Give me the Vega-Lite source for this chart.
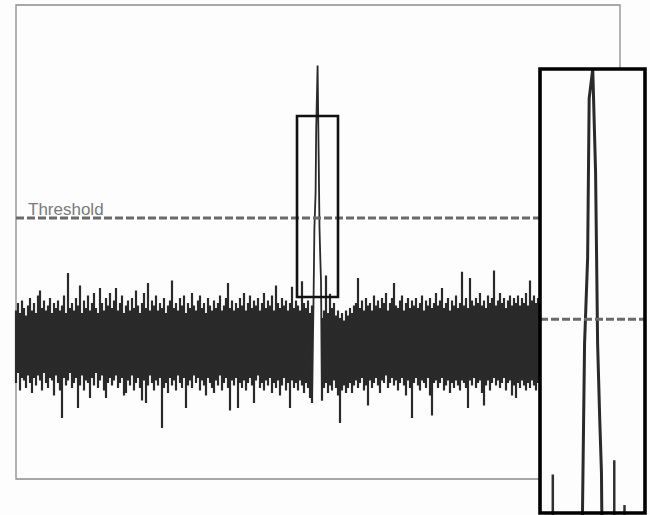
{
  "$schema": "https://vega.github.io/schema/vega-lite/v6.json",
  "width": 650,
  "height": 515,
  "autosize": {"type": "fit", "contains": "padding"},
  "padding": 0,
  "background": "#fdfdfd",
  "config": {"view": {"stroke": null}},
  "datasets": {
    "frame": [{"t0": 0, "t1": 302, "v0": -5.44, "v1": 13.52}],
    "threshold": [{"t0": 0, "t1": 262, "v": 5, "label": "Threshold"}],
    "box": [{"t0": 140.5, "t1": 161, "v0": 1.84, "v1": 9.08, "thr": 5}],
    "peak": [
      {"t":148,"v":-2.4},{"t":148.8,"v":1.9},{"t":149.2,"v":4.6},{"t":149.8,"v":6.0},{"t":150.1,"v":8.6},{"t":150.8,"v":11.1},{"t":151.35,"v":7.4},{"t":151.75,"v":4.6},{"t":152.15,"v":3.4},{"t":152.5,"v":2.5},{"t":153,"v":-2.3}
    ],
    "noise": [
      {"t":0,"hi":1.3,"lo":-1.6},{"t":1,"hi":1.6,"lo":-1.2},{"t":2,"hi":1.2,"lo":-1.9},{"t":3,"hi":1.7,"lo":-1.4},{"t":4,"hi":1.4,"lo":-1.5},{"t":5,"hi":1.1,"lo":-1.8},{"t":6,"hi":1.5,"lo":-1.3},{"t":7,"hi":1.8,"lo":-1.6},{"t":8,"hi":1.3,"lo":-2.0},{"t":9,"hi":1.6,"lo":-1.4},
      {"t":10,"hi":1.2,"lo":-1.7},{"t":11,"hi":1.9,"lo":-1.3},{"t":12,"hi":2.1,"lo":-1.5},{"t":13,"hi":1.4,"lo":-1.9},{"t":14,"hi":1.7,"lo":-1.2},{"t":15,"hi":1.3,"lo":-1.6},{"t":16,"hi":1.5,"lo":-1.8},{"t":17,"hi":1.8,"lo":-1.4},{"t":18,"hi":1.2,"lo":-1.5},{"t":19,"hi":1.6,"lo":-2.1},
      {"t":20,"hi":1.4,"lo":-1.3},{"t":21,"hi":1.7,"lo":-1.6},{"t":22,"hi":1.3,"lo":-1.9},{"t":23,"hi":1.5,"lo":-3.0},{"t":24,"hi":1.9,"lo":-1.4},{"t":25,"hi":1.2,"lo":-1.7},{"t":26,"hi":2.8,"lo":-1.5},{"t":27,"hi":1.4,"lo":-1.2},{"t":28,"hi":1.6,"lo":-1.8},{"t":29,"hi":1.3,"lo":-1.6},
      {"t":30,"hi":1.8,"lo":-1.4},{"t":31,"hi":1.5,"lo":-2.6},{"t":32,"hi":2.3,"lo":-1.7},{"t":33,"hi":1.2,"lo":-1.3},{"t":34,"hi":1.7,"lo":-1.9},{"t":35,"hi":1.4,"lo":-1.5},{"t":36,"hi":1.9,"lo":-1.6},{"t":37,"hi":1.3,"lo":-2.2},{"t":38,"hi":1.6,"lo":-1.4},{"t":39,"hi":2.0,"lo":-1.7},
      {"t":40,"hi":1.4,"lo":-1.2},{"t":41,"hi":1.2,"lo":-1.8},{"t":42,"hi":2.2,"lo":-1.5},{"t":43,"hi":1.6,"lo":-1.3},{"t":44,"hi":1.3,"lo":-1.9},{"t":45,"hi":1.8,"lo":-2.2},{"t":46,"hi":1.5,"lo":-1.6},{"t":47,"hi":2.0,"lo":-1.4},{"t":48,"hi":1.4,"lo":-1.7},{"t":49,"hi":1.7,"lo":-1.5},
      {"t":50,"hi":2.2,"lo":-1.3},{"t":51,"hi":1.3,"lo":-1.8},{"t":52,"hi":1.6,"lo":-1.6},{"t":53,"hi":1.9,"lo":-1.4},{"t":54,"hi":1.2,"lo":-2.1},{"t":55,"hi":1.5,"lo":-2.0},{"t":56,"hi":1.7,"lo":-1.5},{"t":57,"hi":1.3,"lo":-1.7},{"t":58,"hi":1.8,"lo":-1.3},{"t":59,"hi":1.4,"lo":-1.9},
      {"t":60,"hi":2.1,"lo":-1.6},{"t":61,"hi":1.5,"lo":-1.4},{"t":62,"hi":1.2,"lo":-1.8},{"t":63,"hi":1.6,"lo":-2.3},{"t":64,"hi":2.0,"lo":-1.5},{"t":65,"hi":1.4,"lo":-2.4},{"t":66,"hi":2.4,"lo":-1.7},{"t":67,"hi":1.3,"lo":-1.3},{"t":68,"hi":1.7,"lo":-1.6},{"t":69,"hi":1.5,"lo":-1.9},
      {"t":70,"hi":1.9,"lo":-1.5},{"t":71,"hi":1.3,"lo":-1.7},{"t":72,"hi":1.6,"lo":-1.4},{"t":73,"hi":1.4,"lo":-3.4},{"t":74,"hi":1.8,"lo":-1.8},{"t":75,"hi":1.2,"lo":-1.6},{"t":76,"hi":1.5,"lo":-2.0},{"t":77,"hi":1.7,"lo":-1.4},{"t":78,"hi":2.5,"lo":-1.7},{"t":79,"hi":1.4,"lo":-1.5},
      {"t":80,"hi":1.6,"lo":-1.9},{"t":81,"hi":1.3,"lo":-1.3},{"t":82,"hi":1.8,"lo":-1.6},{"t":83,"hi":1.5,"lo":-1.8},{"t":84,"hi":1.9,"lo":-1.4},{"t":85,"hi":1.2,"lo":-2.6},{"t":86,"hi":1.6,"lo":-1.7},{"t":87,"hi":1.4,"lo":-1.5},{"t":88,"hi":2.0,"lo":-1.8},{"t":89,"hi":1.5,"lo":-1.3},
      {"t":90,"hi":1.3,"lo":-1.6},{"t":91,"hi":1.7,"lo":-1.4},{"t":92,"hi":1.9,"lo":-1.9},{"t":93,"hi":1.4,"lo":-1.5},{"t":94,"hi":1.6,"lo":-1.7},{"t":95,"hi":1.2,"lo":-2.1},{"t":96,"hi":1.8,"lo":-1.4},{"t":97,"hi":1.5,"lo":-1.6},{"t":98,"hi":1.3,"lo":-1.8},{"t":99,"hi":1.7,"lo":-2.0},
      {"t":100,"hi":1.4,"lo":-1.5},{"t":101,"hi":1.6,"lo":-1.7},{"t":102,"hi":1.9,"lo":-1.3},{"t":103,"hi":1.3,"lo":-1.9},{"t":104,"hi":1.5,"lo":-1.6},{"t":105,"hi":1.8,"lo":-1.4},{"t":106,"hi":2.4,"lo":-1.8},{"t":107,"hi":1.4,"lo":-2.7},{"t":108,"hi":1.7,"lo":-1.5},{"t":109,"hi":1.3,"lo":-1.7},
      {"t":110,"hi":1.6,"lo":-1.4},{"t":111,"hi":1.4,"lo":-2.6},{"t":112,"hi":1.8,"lo":-1.6},{"t":113,"hi":1.5,"lo":-1.8},{"t":114,"hi":2.0,"lo":-1.5},{"t":115,"hi":1.3,"lo":-1.9},{"t":116,"hi":1.6,"lo":-1.6},{"t":117,"hi":1.9,"lo":-1.4},{"t":118,"hi":1.4,"lo":-1.7},{"t":119,"hi":1.7,"lo":-2.4},
      {"t":120,"hi":1.5,"lo":-1.5},{"t":121,"hi":1.8,"lo":-1.3},{"t":122,"hi":1.3,"lo":-1.8},{"t":123,"hi":1.6,"lo":-1.6},{"t":124,"hi":2.0,"lo":-1.9},{"t":125,"hi":1.4,"lo":-1.5},{"t":126,"hi":1.7,"lo":-1.7},{"t":127,"hi":1.5,"lo":-1.4},{"t":128,"hi":1.9,"lo":-2.0},{"t":129,"hi":1.3,"lo":-1.6},
      {"t":130,"hi":2.3,"lo":-1.8},{"t":131,"hi":1.6,"lo":-1.5},{"t":132,"hi":1.4,"lo":-2.1},{"t":133,"hi":1.8,"lo":-1.7},{"t":134,"hi":1.5,"lo":-1.4},{"t":135,"hi":1.7,"lo":-1.9},{"t":136,"hi":1.3,"lo":-1.6},{"t":137,"hi":1.6,"lo":-2.6},{"t":138,"hi":2.25,"lo":-1.5},{"t":139,"hi":1.4,"lo":-1.8},
      {"t":140,"hi":1.7,"lo":-1.6},{"t":141,"hi":1.5,"lo":-1.9},{"t":142,"hi":1.3,"lo":-1.5},{"t":143,"hi":2.47,"lo":-1.7},{"t":144,"hi":1.6,"lo":-2.0},{"t":145,"hi":1.4,"lo":-1.6},{"t":146,"hi":1.7,"lo":-1.8},{"t":147,"hi":1.2,"lo":-2.2},{"t":148,"hi":1.5,"lo":-2.4},
      {"t":153,"hi":1.0,"lo":-2.3},{"t":154,"hi":1.3,"lo":-1.8},{"t":155,"hi":2.7,"lo":-1.6},{"t":156,"hi":1.2,"lo":-2.0},{"t":157,"hi":1.97,"lo":-1.7},{"t":158,"hi":1.4,"lo":-1.9},{"t":159,"hi":1.6,"lo":-1.5},
      {"t":160,"hi":1.1,"lo":-1.8},{"t":161,"hi":1.3,"lo":-2.1},{"t":162,"hi":1.0,"lo":-3.2},{"t":163,"hi":1.2,"lo":-1.9},{"t":164,"hi":0.9,"lo":-1.7},{"t":165,"hi":1.3,"lo":-2.0},{"t":166,"hi":1.1,"lo":-1.8},{"t":167,"hi":1.4,"lo":-1.6},{"t":168,"hi":1.2,"lo":-2.0},{"t":169,"hi":1.5,"lo":-1.7},
      {"t":170,"hi":1.6,"lo":-1.5},{"t":171,"hi":2.6,"lo":-1.8},{"t":172,"hi":1.4,"lo":-1.6},{"t":173,"hi":1.7,"lo":-1.4},{"t":174,"hi":1.3,"lo":-1.9},{"t":175,"hi":1.8,"lo":-1.7},{"t":176,"hi":1.5,"lo":-2.5},{"t":177,"hi":1.6,"lo":-1.5},{"t":178,"hi":1.3,"lo":-1.8},{"t":179,"hi":1.9,"lo":-1.6},
      {"t":180,"hi":1.5,"lo":-1.4},{"t":181,"hi":1.7,"lo":-1.7},{"t":182,"hi":1.4,"lo":-2.0},{"t":183,"hi":1.8,"lo":-1.5},{"t":184,"hi":1.6,"lo":-1.6},{"t":185,"hi":2.0,"lo":-1.3},{"t":186,"hi":1.3,"lo":-1.8},{"t":187,"hi":1.6,"lo":-1.6},{"t":188,"hi":1.8,"lo":-1.4},{"t":189,"hi":2.4,"lo":-1.7},
      {"t":190,"hi":1.5,"lo":-1.5},{"t":191,"hi":1.4,"lo":-1.9},{"t":192,"hi":1.7,"lo":-1.6},{"t":193,"hi":1.9,"lo":-1.4},{"t":194,"hi":1.3,"lo":-1.7},{"t":195,"hi":1.6,"lo":-2.1},{"t":196,"hi":1.8,"lo":-1.5},{"t":197,"hi":1.4,"lo":-1.8},{"t":198,"hi":1.7,"lo":-3.0},{"t":199,"hi":1.5,"lo":-1.6},
      {"t":200,"hi":1.8,"lo":-1.4},{"t":201,"hi":1.4,"lo":-1.7},{"t":202,"hi":1.6,"lo":-1.9},{"t":203,"hi":1.9,"lo":-1.5},{"t":204,"hi":1.3,"lo":-1.6},{"t":205,"hi":1.7,"lo":-1.8},{"t":206,"hi":1.5,"lo":-1.4},{"t":207,"hi":1.8,"lo":-2.1},{"t":208,"hi":1.4,"lo":-2.9},{"t":209,"hi":1.6,"lo":-1.6},
      {"t":210,"hi":2.0,"lo":-1.5},{"t":211,"hi":1.5,"lo":-1.8},{"t":212,"hi":1.7,"lo":-1.6},{"t":213,"hi":2.2,"lo":-1.4},{"t":214,"hi":1.4,"lo":-1.9},{"t":215,"hi":1.6,"lo":-1.7},{"t":216,"hi":1.8,"lo":-1.5},{"t":217,"hi":1.3,"lo":-2.0},{"t":218,"hi":1.7,"lo":-1.6},{"t":219,"hi":1.5,"lo":-1.8},
      {"t":220,"hi":1.9,"lo":-1.5},{"t":221,"hi":1.4,"lo":-1.7},{"t":222,"hi":1.6,"lo":-1.9},{"t":223,"hi":2.85,"lo":-1.5},{"t":224,"hi":1.5,"lo":-1.6},{"t":225,"hi":1.8,"lo":-1.8},{"t":226,"hi":1.4,"lo":-2.6},{"t":227,"hi":2.6,"lo":-1.5},{"t":228,"hi":1.7,"lo":-1.7},{"t":229,"hi":1.5,"lo":-1.4},
      {"t":230,"hi":1.8,"lo":-1.8},{"t":231,"hi":1.6,"lo":-1.6},{"t":232,"hi":2.0,"lo":-1.5},{"t":233,"hi":1.5,"lo":-2.0},{"t":234,"hi":1.7,"lo":-2.5},{"t":235,"hi":1.4,"lo":-1.7},{"t":236,"hi":1.9,"lo":-1.5},{"t":237,"hi":1.6,"lo":-1.9},{"t":238,"hi":1.8,"lo":-1.6},{"t":239,"hi":2.9,"lo":-1.4},
      {"t":240,"hi":1.5,"lo":-1.7},{"t":241,"hi":1.7,"lo":-1.5},{"t":242,"hi":2.0,"lo":-1.8},{"t":243,"hi":1.6,"lo":-1.6},{"t":244,"hi":1.8,"lo":-1.4},{"t":245,"hi":1.4,"lo":-1.9},{"t":246,"hi":1.7,"lo":-1.6},{"t":247,"hi":1.9,"lo":-1.5},{"t":248,"hi":1.5,"lo":-2.1},{"t":249,"hi":1.8,"lo":-1.7},
      {"t":250,"hi":1.6,"lo":-2.2},{"t":251,"hi":1.9,"lo":-1.6},{"t":252,"hi":1.5,"lo":-1.8},{"t":253,"hi":1.8,"lo":-1.5},{"t":254,"hi":1.6,"lo":-1.7},{"t":255,"hi":2.0,"lo":-1.9},{"t":256,"hi":1.5,"lo":-1.6},{"t":257,"hi":2.5,"lo":-1.8},{"t":258,"hi":1.7,"lo":-1.5},{"t":259,"hi":1.9,"lo":-1.7},
      {"t":260,"hi":1.6,"lo":-1.9},{"t":261,"hi":1.8,"lo":-1.6},{"t":262,"hi":1.5,"lo":-2.2}
    ]
  },
  "layer": [
    {
      "layer": [
        {
          "data": {"name": "frame"},
          "mark": {"type": "rect", "fill": "transparent", "stroke": "#8c8c8c", "strokeWidth": 1.3},
          "encoding": {
            "x": {"field": "t0", "type": "quantitative", "axis": null, "scale": {"domain": [0, 302], "range": [16, 620], "nice": false, "zero": false}},
            "x2": {"field": "t1"},
            "y": {"field": "v0", "type": "quantitative", "axis": null, "scale": {"domain": [-5.44, 13.52], "range": [479, 5], "nice": false, "zero": false}},
            "y2": {"field": "v1"}
          }
        },
        {
          "data": {"name": "noise"},
          "mark": {"type": "rule", "stroke": "#2a2a2a", "strokeWidth": 2.2},
          "encoding": {
            "x": {"field": "t", "type": "quantitative", "axis": null, "scale": {"domain": [0, 302], "range": [16, 620], "nice": false, "zero": false}},
            "y": {"field": "hi", "type": "quantitative", "axis": null, "scale": {"domain": [-5.44, 13.52], "range": [479, 5], "nice": false, "zero": false}},
            "y2": {"field": "lo"}
          }
        },
        {
          "data": {"name": "peak"},
          "mark": {"type": "line", "stroke": "#2a2a2a", "strokeWidth": 1.8},
          "encoding": {
            "x": {"field": "t", "type": "quantitative", "axis": null, "scale": {"domain": [0, 302], "range": [16, 620], "nice": false, "zero": false}},
            "y": {"field": "v", "type": "quantitative", "axis": null, "scale": {"domain": [-5.44, 13.52], "range": [479, 5], "nice": false, "zero": false}}
          }
        },
        {
          "data": {"name": "threshold"},
          "mark": {"type": "rule", "stroke": "#6a6a6a", "strokeWidth": 3, "strokeDash": [8, 3]},
          "encoding": {
            "x": {"field": "t0", "type": "quantitative", "axis": null, "scale": {"domain": [0, 302], "range": [16, 620], "nice": false, "zero": false}},
            "x2": {"field": "t1"},
            "y": {"field": "v", "type": "quantitative", "axis": null, "scale": {"domain": [-5.44, 13.52], "range": [479, 5], "nice": false, "zero": false}}
          }
        },
        {
          "data": {"name": "threshold"},
          "mark": {"type": "text", "align": "left", "baseline": "alphabetic", "dx": 12, "dy": -3, "fontSize": 17, "font": "Liberation Sans", "fill": "#7a7a7a"},
          "encoding": {
            "x": {"field": "t0", "type": "quantitative", "axis": null, "scale": {"domain": [0, 302], "range": [16, 620], "nice": false, "zero": false}},
            "y": {"field": "v", "type": "quantitative", "axis": null, "scale": {"domain": [-5.44, 13.52], "range": [479, 5], "nice": false, "zero": false}},
            "text": {"field": "label"}
          }
        },
        {
          "data": {"name": "box"},
          "mark": {"type": "rect", "fill": "transparent", "stroke": "#111111", "strokeWidth": 2.6},
          "encoding": {
            "x": {"field": "t0", "type": "quantitative", "axis": null, "scale": {"domain": [0, 302], "range": [16, 620], "nice": false, "zero": false}},
            "x2": {"field": "t1"},
            "y": {"field": "v0", "type": "quantitative", "axis": null, "scale": {"domain": [-5.44, 13.52], "range": [479, 5], "nice": false, "zero": false}},
            "y2": {"field": "v1"}
          }
        }
      ]
    },
    {
      "layer": [
        {
          "data": {"name": "box"},
          "mark": {"type": "rect", "fill": "#fdfdfd", "stroke": null},
          "encoding": {
            "x": {"field": "t0", "type": "quantitative", "axis": null, "scale": {"domain": [140.5, 161], "range": [540, 645], "nice": false, "zero": false}},
            "x2": {"field": "t1"},
            "y": {"field": "v0", "type": "quantitative", "axis": null, "scale": {"domain": [-5, 9.08], "range": [932.5, 69], "clamp": true, "nice": false, "zero": false}},
            "y2": {"field": "v1"}
          }
        },
        {
          "data": {"name": "noise"},
          "transform": [{"filter": "datum.t >= 140 && datum.t <= 161"}],
          "mark": {"type": "rule", "stroke": "#303030", "strokeWidth": 2.5},
          "encoding": {
            "x": {"field": "t", "type": "quantitative", "axis": null, "scale": {"domain": [140.5, 161], "range": [540, 645], "nice": false, "zero": false}},
            "y": {"field": "hi", "type": "quantitative", "axis": null, "scale": {"domain": [-5, 9.08], "range": [932.5, 69], "clamp": true, "nice": false, "zero": false}},
            "y2": {"field": "lo"}
          }
        },
        {
          "data": {"name": "peak"},
          "mark": {"type": "line", "stroke": "#2a2a2a", "strokeWidth": 3},
          "encoding": {
            "x": {"field": "t", "type": "quantitative", "axis": null, "scale": {"domain": [140.5, 161], "range": [540, 645], "nice": false, "zero": false}},
            "y": {"field": "v", "type": "quantitative", "axis": null, "scale": {"domain": [-5, 9.08], "range": [932.5, 69], "clamp": true, "nice": false, "zero": false}}
          }
        },
        {
          "data": {"name": "box"},
          "mark": {"type": "rule", "stroke": "#6a6a6a", "strokeWidth": 3, "strokeDash": [8, 3]},
          "encoding": {
            "x": {"field": "t0", "type": "quantitative", "axis": null, "scale": {"domain": [140.5, 161], "range": [540, 645], "nice": false, "zero": false}},
            "x2": {"field": "t1"},
            "y": {"field": "thr", "type": "quantitative", "axis": null, "scale": {"domain": [-5, 9.08], "range": [932.5, 69], "clamp": true, "nice": false, "zero": false}}
          }
        },
        {
          "data": {"name": "box"},
          "mark": {"type": "rect", "fill": "transparent", "stroke": "#000000", "strokeWidth": 3.6},
          "encoding": {
            "x": {"field": "t0", "type": "quantitative", "axis": null, "scale": {"domain": [140.5, 161], "range": [540, 645], "nice": false, "zero": false}},
            "x2": {"field": "t1"},
            "y": {"field": "v0", "type": "quantitative", "axis": null, "scale": {"domain": [-5, 9.08], "range": [932.5, 69], "clamp": true, "nice": false, "zero": false}},
            "y2": {"field": "v1"}
          }
        }
      ]
    }
  ],
  "resolve": {"scale": {"x": "independent", "y": "independent"}}
}
